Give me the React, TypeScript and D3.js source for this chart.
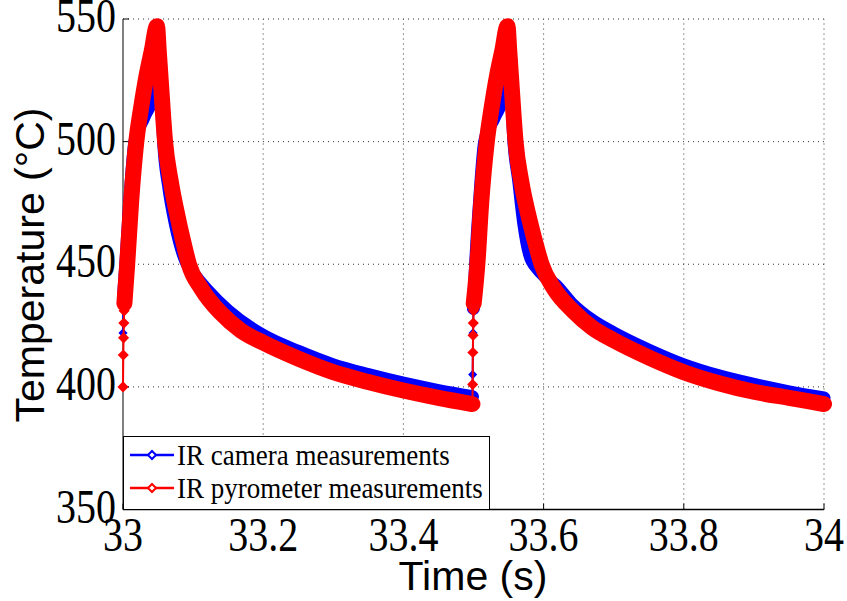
import React from 'react';
import * as d3 from 'd3';

type P = [number, number];

// Tick values
const xTicks: number[] = [33, 33.2, 33.4, 33.6, 33.8, 34];
const yTicks: number[] = [350, 400, 450, 500, 550];
const xTickLabels: string[] = ['33', '33.2', '33.4', '33.6', '33.8', '34'];
const yTickLabels: string[] = ['350', '400', '450', '500', '550'];

const seriesNames: string[] = ['IR camera measurements', 'IR pyrometer measurements'];

// IR camera (blue) — cycle 1
const cameraJump1: P[] = [[33.0, 422], [33.0006, 436]];
const cameraBand1: P[] = [
  [33.0006, 436], [33.004, 450], [33.0095, 475], [33.017, 500], [33.03, 510], [33.044, 520],
  [33.05, 530], [33.0525, 535], [33.055, 520], [33.058, 500], [33.065, 482], [33.075, 466],
  [33.09, 451], [33.1, 446.5], [33.12, 439.5], [33.15, 431], [33.2, 421], [33.25, 414.5],
  [33.3, 409], [33.35, 405], [33.4, 401.5], [33.45, 398.5], [33.4985, 396],
];
// IR camera (blue) — cycle 2
const cameraJump2: P[] = [[33.4985, 396], [33.4988, 405], [33.4994, 422], [33.4999, 432]];
const cameraBand2: P[] = [
  [33.4999, 432], [33.503, 450], [33.5085, 475], [33.516, 500], [33.53, 510], [33.544, 520],
  [33.55, 530], [33.5525, 535], [33.555, 520], [33.557, 503], [33.5645, 484], [33.572, 466],
  [33.58, 454], [33.592, 448], [33.602, 445], [33.617, 441.5], [33.64, 434], [33.67, 427],
  [33.7, 422], [33.75, 415], [33.8, 409], [33.85, 404.5], [33.9, 401], [33.95, 398], [34.0, 395.5],
];

// IR pyrometer (red) — cycle 1
const pyrometerJump1: P[] = [[33.0, 400], [33.0004, 413], [33.0008, 420], [33.0012, 426], [33.0016, 431], [33.002, 434]];
const pyrometerBand1: P[] = [
  [33.002, 434], [33.006, 450], [33.0115, 475], [33.019, 500], [33.026, 514], [33.033, 526],
  [33.041, 537], [33.0485, 547], [33.051, 537], [33.055, 520], [33.06, 500], [33.068, 484],
  [33.079, 468], [33.087, 458], [33.094, 450], [33.112, 440], [33.14, 430], [33.168, 423],
  [33.2, 418], [33.25, 411.5], [33.3, 406], [33.35, 402], [33.4, 398.5], [33.45, 395.5], [33.4985, 393],
];
// IR pyrometer (red) — cycle 2
const pyrometerJump2: P[] = [[33.4985, 393], [33.4988, 401], [33.4991, 414], [33.4994, 421], [33.4997, 426], [33.5, 431], [33.5003, 434]];
const pyrometerBand2: P[] = [
  [33.5003, 434], [33.5055, 450], [33.511, 475], [33.519, 500], [33.526, 514], [33.533, 526],
  [33.541, 537], [33.5485, 547], [33.551, 537], [33.555, 520], [33.56, 500], [33.568, 484],
  [33.58, 468], [33.589, 458], [33.597, 450], [33.615, 440], [33.642, 431], [33.67, 424],
  [33.7, 419], [33.75, 412], [33.8, 406], [33.85, 401.5], [33.9, 398], [33.95, 395.5], [34.0, 393],
];

const BLUE = '#0000ff';
const RED = '#ff0000';

export default function App() {
  const W = 847;
  const H = 601;
  const x = d3.scaleLinear().domain([33, 34]).range([123, 824]);
  const y = d3.scaleLinear().domain([350, 550]).range([509.5, 19]);

  const bandLine = d3.line<P>().x(d => x(d[0])).y(d => y(d[1])).curve(d3.curveMonotoneX);
  const thinLine = d3.line<P>().x(d => x(d[0])).y(d => y(d[1]));

  const diamond = (cx: number, cy: number, r: number) =>
    `M${cx},${cy - r}L${cx + r},${cy}L${cx},${cy + r}L${cx - r},${cy}Z`;

  const [x0, x1] = x.range();
  const [yb, yt] = y.range();

  const serifStyle = { fontFamily: "'Liberation Serif', 'Times New Roman', Times, serif" };
  const sansStyle = { fontFamily: "'Liberation Sans', Arial, Helvetica, sans-serif" };

  const markers = (pts: P[], color: string, r: number, key: string) =>
    pts.map((d, i) => (
      <path key={key + i} d={diamond(x(d[0]), y(d[1]), r)} fill={color} stroke={color} strokeWidth={1.5} />
    ));

  const legendX = 123.5;
  const legendY = 436.5;
  const legendW = 366;
  const legendH = 73;
  const legendRows = [
    { name: seriesNames[0], color: BLUE, cy: 455 },
    { name: seriesNames[1], color: RED, cy: 488 },
  ];

  return (
    <svg width={W} height={H} style={{ position: 'absolute', left: 0, top: 0, background: '#fff' }}>
      <rect x={0} y={0} width={W} height={H} fill="#fff" />
      {/* grid */}
      <g stroke="#333" strokeWidth={1} strokeDasharray="1,4">
        {xTicks.filter(t => t !== 33).map(t => (
          <line key={'gx' + t} x1={x(t)} x2={x(t)} y1={yb} y2={yt} />
        ))}
        {yTicks.filter(t => t !== 350).map(t => (
          <line key={'gy' + t} x1={x0} x2={x1} y1={y(t)} y2={y(t)} />
        ))}
      </g>
      {/* axes */}
      <line x1={x0} x2={x0} y1={yt} y2={yb} stroke="#808080" strokeWidth={2} />
      <line x1={x0} x2={x1} y1={yb} y2={yb} stroke="#000" strokeWidth={1.5} />
      <g stroke="#000" strokeWidth={1}>
        {yTicks.map(t => (
          <line key={'ty' + t} x1={x0} x2={x0 + 6} y1={y(t)} y2={y(t)} />
        ))}
        {xTicks.map(t => (
          <line key={'tx' + t} x1={x(t)} x2={x(t)} y1={yb} y2={yb - 6} />
        ))}
      </g>

      {/* camera series (blue) */}
      <g fill="none" stroke={BLUE} strokeLinejoin="round" strokeLinecap="round">
        <path d={bandLine(cameraBand1) || ''} strokeWidth={13} />
        <path d={bandLine(cameraBand2) || ''} strokeWidth={13} />
        <path d={thinLine(cameraJump1) || ''} strokeWidth={2} />
        <path d={thinLine(cameraJump2) || ''} strokeWidth={2} />
      </g>
      {markers(cameraJump1, BLUE, 3.5, 'cj1')}
      {markers(cameraJump2, BLUE, 3.5, 'cj2')}

      {/* pyrometer series (red) */}
      <g fill="none" stroke={RED} strokeLinejoin="round" strokeLinecap="round">
        <path d={bandLine(pyrometerBand1) || ''} strokeWidth={16} />
        <path d={bandLine(pyrometerBand2) || ''} strokeWidth={16} />
        <path d={thinLine(pyrometerJump1) || ''} strokeWidth={2} />
        <path d={thinLine(pyrometerJump2) || ''} strokeWidth={2} />
      </g>
      {markers(pyrometerJump1, RED, 4.5, 'pj1')}
      {markers(pyrometerJump2, RED, 4.5, 'pj2')}

      {/* tick labels */}
      {yTicks.map((t, i) => (
        <text
          key={'ly' + t}
          transform={`translate(116, ${y(t) + 13}) scale(1, 1.2)`}
          textAnchor="end"
          fontSize={40}
          fill="#000"
          style={serifStyle}
        >
          {yTickLabels[i]}
        </text>
      ))}
      {xTicks.map((t, i) => (
        <text
          key={'lx' + t}
          transform={`translate(${x(t)}, 551) scale(1, 1.2)`}
          textAnchor="middle"
          fontSize={40}
          fill="#000"
          style={serifStyle}
        >
          {xTickLabels[i]}
        </text>
      ))}

      {/* axis titles */}
      <text x={473} y={590} textAnchor="middle" fontSize={41} fill="#000" style={sansStyle}>
        Time (s)
      </text>
      <text
        transform={`translate(44, 265) rotate(-90)`}
        textAnchor="middle"
        fontSize={41}
        fill="#000"
        style={sansStyle}
      >
        Temperature (°C)
      </text>

      {/* legend */}
      <rect x={legendX} y={legendY} width={legendW} height={legendH} fill="#fff" stroke="#000" strokeWidth={1} />
      {legendRows.map(r => (
        <g key={r.name}>
          <line x1={130} x2={174} y1={r.cy} y2={r.cy} stroke={r.color} strokeWidth={2.5} />
          <path d={diamond(152, r.cy, 4)} fill="#fff" stroke={r.color} strokeWidth={2} />
          <text
            transform={`translate(177, ${r.cy + 10}) scale(1, 1.1)`}
            fontSize={27}
            fill="#000"
            style={serifStyle}
          >
            {r.name}
          </text>
        </g>
      ))}
    </svg>
  );
}
